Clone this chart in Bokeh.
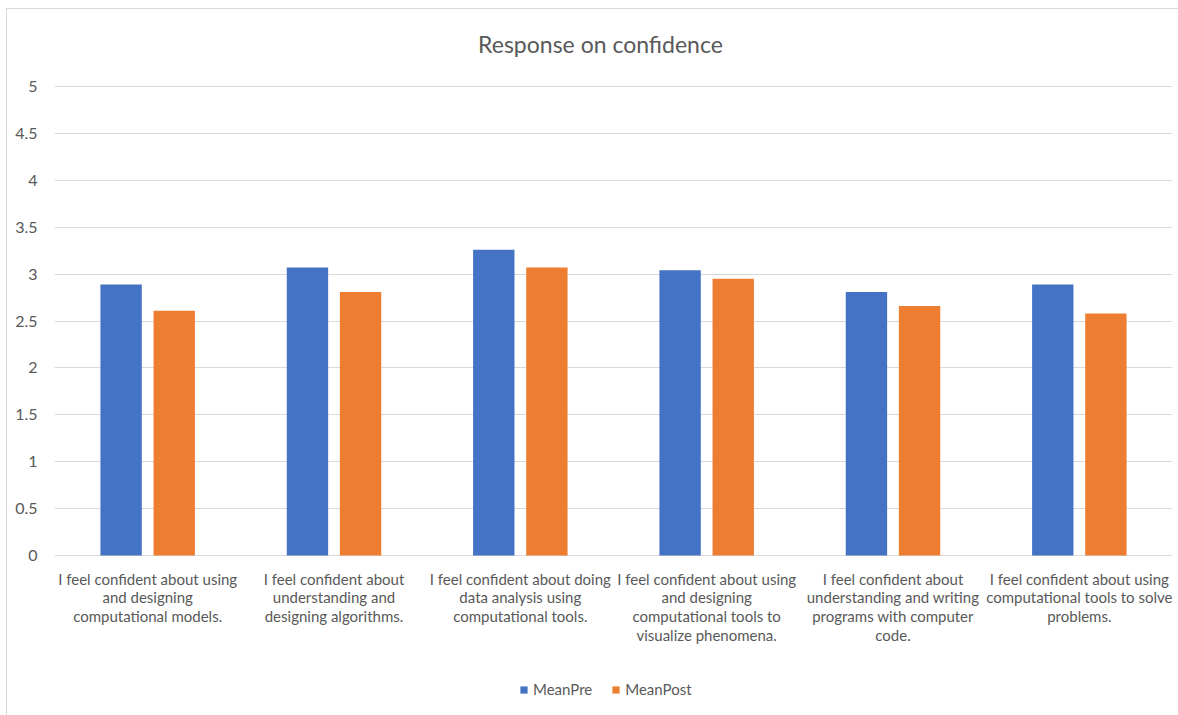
from bokeh.plotting import figure
from bokeh.models import (FactorRange, Legend, LegendItem, Label,
                          ColumnDataSource, FixedTicker, NumeralTickFormatter)
from bokeh.core.properties import value
from bokeh.transform import dodge
from bokeh.embed import file_html
from bokeh.resources import INLINE

# Survey statements (x categories), wrapped as printed under the bars
statements = [
    "I feel confident about using\nand designing\ncomputational models.",
    "I feel confident about\nunderstanding and\ndesigning algorithms.",
    "I feel confident about doing\ndata analysis using\ncomputational tools.",
    "I feel confident about using\nand designing\ncomputational tools to\nvisualize phenomena.",
    "I feel confident about\nunderstanding and writing\nprograms with computer\ncode.",
    "I feel confident about using\ncomputational tools to solve\nproblems.",
]

# Mean responses before and after
mean_pre = [2.89, 3.07, 3.26, 3.04, 2.81, 2.89]
mean_post = [2.61, 2.81, 3.07, 2.95, 2.66, 2.58]

y_ticks = [0, 0.5, 1, 1.5, 2, 2.5, 3, 3.5, 4, 4.5, 5]

TITLE = "Response on confidence"

FONT = "Lato"
TEXT_GREY = "#595959"
GRID_GREY = "#D9D9D9"
BLUE = "#4472C4"
ORANGE = "#ED7D31"

source = ColumnDataSource(dict(statement=statements, pre=mean_pre, post=mean_post))

# The plotting frame fills the whole canvas height so the title, the
# category labels and the legend all live inside it around the 0..5 scale.
Y_TOP = 5.821
Y_BOTTOM = -1.716
LABEL_Y = -0.15

p = figure(
    width=1172, height=707,
    x_range=FactorRange(*statements, range_padding=0),
    y_range=(Y_BOTTOM, Y_TOP),
    x_axis_location=None, title_location=None,
    output_backend="svg", toolbar_location=None,
    min_border_left=47, min_border_right=7,
    min_border_top=0, min_border_bottom=0,
    background_fill_color="white", border_fill_color="white",
    margin=(8, 0, 0, 6),
    styles={"border-top": "1px solid #D9D9D9", "border-left": "1px solid #D9D9D9"},
)
p.outline_line_color = None

p.add_layout(Label(x=2.93, y=5.448, text=TITLE, text_font=FONT,
                   text_font_size="23px", text_color=TEXT_GREY,
                   text_align="center", text_baseline="middle"))

bar_w = 0.222
r_pre = p.vbar(x=dodge("statement", -0.1425, range=p.x_range), top="pre",
               width=bar_w, source=source, fill_color=BLUE, line_color=None)
r_post = p.vbar(x=dodge("statement", 0.1425, range=p.x_range), top="post",
                width=bar_w, source=source, fill_color=ORANGE, line_color=None)

# category labels under the zero line
p.text(x="statement", y=LABEL_Y, text="statement", source=source,
       text_font=value(FONT), text_font_size="15px", text_color=TEXT_GREY,
       text_align="center", text_baseline="top", text_line_height=1.05)

# y axis
p.yaxis.ticker = FixedTicker(ticks=y_ticks)
p.yaxis.formatter = NumeralTickFormatter(format="0.[0]")
p.yaxis.axis_line_color = None
p.yaxis.major_tick_line_color = None
p.yaxis.minor_tick_line_color = None
p.yaxis.major_label_text_font = FONT
p.yaxis.major_label_text_font_size = "16px"
p.yaxis.major_label_text_color = TEXT_GREY
p.yaxis.major_label_standoff = 11

p.xgrid.grid_line_color = None
p.ygrid.ticker = FixedTicker(ticks=y_ticks)
p.ygrid.grid_line_color = GRID_GREY
p.ygrid.grid_line_width = 1

legend = Legend(
    items=[LegendItem(label="MeanPre", renderers=[r_pre]),
           LegendItem(label="MeanPost", renderers=[r_post])],
    orientation="horizontal",
    location=(465, 18),
    glyph_width=9, glyph_height=9,
    label_standoff=5, spacing=19, padding=0, margin=0,
    label_text_font=FONT, label_text_font_size="15px",
    label_text_color=TEXT_GREY,
    border_line_color=None, background_fill_alpha=0,
)
p.add_layout(legend, "center")

open("out.html", "w").write(file_html(p, INLINE))
